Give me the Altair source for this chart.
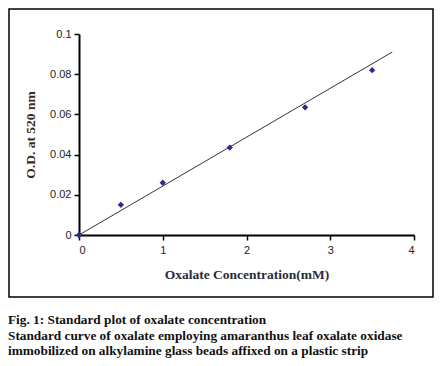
import altair as alt
import pandas as pd

# data
conc = [0, 0.5, 1.0, 1.8, 2.7, 3.5]
od = [0.0, 0.015, 0.026, 0.0435, 0.0635, 0.082]
fit_x = [0.0, 3.74]
fit_y = [0.0, 0.0910]
x_ticks = [0, 1, 2, 3, 4]
y_ticks = [0, 0.02, 0.04, 0.06, 0.08, 0.1]
caption = ("Fig. 1: Standard plot of oxalate concentration\n"
           "Standard curve of oxalate employing amaranthus leaf oxalate oxidase\n"
           "immobilized on alkylamine glass beads affixed on a plastic strip")

pts_df = pd.DataFrame({"x": conc, "y": od})
fit_df = pd.DataFrame({"x": fit_x, "y": fit_y})

xscale = alt.Scale(domain=[0, 4], nice=False, zero=False)
yscale = alt.Scale(domain=[0, 0.1], nice=False, zero=False)

title_font = "Liberation Serif"
tick_font = "Liberation Sans"

xaxis = alt.Axis(values=x_ticks, format="d", title="Oxalate Concentration(mM)", grid=False,
                 domainColor="black", domainWidth=2, tickColor="black", tickWidth=1.5,
                 tickSize=5, labelFont=tick_font, labelFontSize=11, labelColor="#222",
                 labelPadding=4, titleFont=title_font, titleFontSize=13.5, titleFontWeight="bold",
                 titleColor="#2a2a3a", titlePadding=12)
yaxis = alt.Axis(values=y_ticks, format="~g", title="O.D. at 520 nm", grid=False,
                 domainColor="black", domainWidth=2, tickColor="black", tickWidth=1.5,
                 tickSize=5, labelFont=tick_font, labelFontSize=11, labelColor="#222",
                 labelPadding=3, titleFont=title_font, titleFontSize=13.5, titleFontWeight="bold",
                 titleColor="#3a2a20", titlePadding=12)

line = alt.Chart(fit_df).mark_line(color="#333", strokeWidth=1).encode(
    x=alt.X("x:Q", scale=xscale, axis=xaxis),
    y=alt.Y("y:Q", scale=yscale, axis=yaxis),
)
pts = alt.Chart(pts_df).mark_point(shape="diamond", filled=True, color="#2b2b8c",
                                   size=40, opacity=1).encode(
    x=alt.X("x:Q", scale=xscale),
    y=alt.Y("y:Q", scale=yscale),
)
box = alt.Chart(pd.DataFrame({"a": [0]})).mark_rect(
    fill=None, stroke="black", strokeWidth=1.5).encode(
    x=alt.value(-70), x2=alt.value(354), y=alt.value(-25), y2=alt.value(263)
)
cap = alt.Chart(pd.DataFrame({"a": [0]})).mark_text(
    text=caption, lineBreak="\n", lineHeight=15.5, align="left", baseline="alphabetic",
    font=title_font, fontSize=13.3, fontWeight="bold", color="#111").encode(
    x=alt.value(-71), y=alt.value(290)
)

chart = alt.layer(box, line, pts, cap).properties(
    width=335, height=201,
    autosize=alt.AutoSizeParams(type="none"),
    padding={"left": 71, "top": 26, "right": 20, "bottom": 123},
).configure_view(stroke=None)

chart.save("out.html", embed_options={"renderer": "svg", "actions": False})
